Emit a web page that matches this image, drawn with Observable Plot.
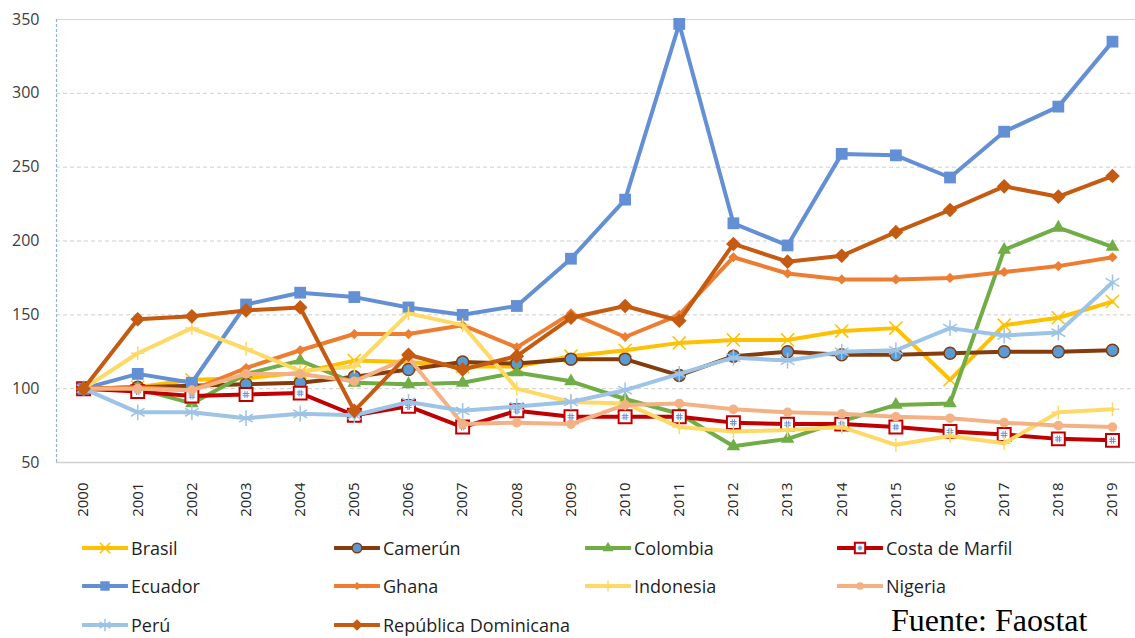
<!DOCTYPE html>
<html><head><meta charset="utf-8">
<script src="https://cdn.jsdelivr.net/npm/d3@7"></script>
<script src="https://cdn.jsdelivr.net/npm/@observablehq/plot@0.6"></script>
<style>
body{margin:0;background:#fff;font-family:"Open Sans",sans-serif;}
#wrap{position:relative;width:1135px;height:638px;overflow:hidden;}
.leg{position:absolute;display:flex;align-items:center;font-size:18px;color:#1f1f1f;height:30px;}
.leg svg{margin-right:3px;}
#fuente{position:absolute;left:891px;top:602px;font-family:"Liberation Serif","Times New Roman",serif;font-size:32px;color:#000;white-space:nowrap;}
</style></head><body><div id="wrap"><div id="chart"></div><div id="legend"></div><div id="fuente">Fuente: Faostat</div></div>
<script>
const years = [2000,2001,2002,2003,2004,2005,2006,2007,2008,2009,2010,2011,2012,2013,2014,2015,2016,2017,2018,2019];
const yTicks = [50,100,150,200,250,300,350];
const countries = ["Brasil","Camerún","Colombia","Costa de Marfil","Ecuador","Ghana","Indonesia","Nigeria","Perú","República Dominicana"];

const brasil    = [100,101,106,107,111,119,118,115,115,122,126,131,133,133,139,141,106,143,148,159];
const camerun   = [100,101,102,103,104,108,113,118,117,120,120,109,122,125,123,123,124,125,125,126];
const colombia  = [100,100,90,110,119,104,103,104,111,105,93,83,61,66,78,89,90,194,209,196];
const costa     = [100,98,95,96,97,82,88,74,85,81,81,81,77,76,76,74,71,69,66,65];
const ecuador   = [100,110,104,157,165,162,155,150,156,188,228,347,212,197,259,258,243,274,291,335];
const ghana     = [100,101,99,114,126,137,137,143,128,151,135,150,189,178,174,174,175,179,183,189];
const indonesia = [100,124,141,127,112,115,151,143,100,91,90,74,71,72,74,62,68,63,84,86];
const nigeria   = [100,100,99,110,110,105,121,76,77,76,89,90,86,84,83,81,80,77,75,74];
const peru      = [100,84,84,80,83,82,91,85,88,91,99,110,121,119,125,126,141,136,138,172];
const repdom    = [100,147,149,153,155,85,123,113,122,148,156,146,198,186,190,206,221,237,230,244];

const valuesByCountry = [brasil,camerun,colombia,costa,ecuador,ghana,indonesia,nigeria,peru,repdom];

// grid-square custom symbol (for Costa de Marfil marker interior)
const gridSymbol = {
  draw(ctx, size) {
    const h = Math.sqrt(size) / 2;
    const a = h / 3;
    ctx.moveTo(-a, -h); ctx.lineTo(-a, h);
    ctx.moveTo(a, -h); ctx.lineTo(a, h);
    ctx.moveTo(-h, -a); ctx.lineTo(h, -a);
    ctx.moveTo(-h, a); ctx.lineTo(h, a);
  }
};

const styles = [
  {color:"#FFC000", symbol:"times",    r:6,   fill:"none",   stroke:"#FFC000", sw:1.5},
  {color:"#843C0C", symbol:"circle",   r:6,   fill:"#5B9BD5", stroke:"#843C0C", sw:1.5},
  {color:"#70AD47", symbol:"triangle2",r:6.5, fill:"#70AD47", stroke:"none", sw:0},
  {color:"#C00000", symbol:"square",   r:7.3, fill:"#ffffff", stroke:"#C00000", sw:2, grid:true},
  {color:"#638FD4", symbol:"square2",  r:7.5, fill:"#638FD4", stroke:"none", sw:0},
  {color:"#ED7D31", symbol:"diamond2", r:4.6, fill:"#ED7D31", stroke:"none", sw:0},
  {color:"#FFD966", symbol:"plus",     r:4.5, fill:"none",   stroke:"#FFD966", sw:1.5},
  {color:"#F4B183", symbol:"circle",   r:4.8, fill:"#F4B183", stroke:"none", sw:0},
  {color:"#9DC3E6", symbol:"asterisk", r:7.5, fill:"none",   stroke:"#9DC3E6", sw:1.5},
  {color:"#C55A11", symbol:"diamond2", r:6.6, fill:"#C55A11", stroke:"none", sw:0}
];

const marks = [
  Plot.ruleY([100,150,200,250,300], {stroke:"#cfcfcf", strokeDasharray:"4,3", strokeWidth:1}),
  Plot.ruleY([350], {stroke:"#d4d4d4", strokeWidth:1.2}),
  Plot.ruleY([50], {stroke:"#d0d0d0", strokeWidth:1.5}),
  Plot.ruleX([1999.5], {stroke:"#8FB0E3", strokeDasharray:"3,2", strokeWidth:1.2}),
  Plot.axisY({ticks:yTicks, tickSize:0, tickPadding:17, fontSize:16, fill:"#404040", label:null}),
  Plot.axisX({ticks:years, tickFormat:d=>String(d), tickSize:0, tickRotate:-90, tickPadding:20, fontSize:15, fill:"#262626", label:null})
];

countries.forEach((c, i) => {
  const rows = years.map((yr, j) => ({country:c, year:yr, value:valuesByCountry[i][j]}));
  const s = styles[i];
  marks.push(Plot.line(rows, {x:"year", y:"value", stroke:s.color, strokeWidth:4, strokeLinejoin:"round", strokeLinecap:"round"}));
  marks.push(Plot.dot(rows, {x:"year", y:"value", symbol:s.symbol, r:s.r, fill:s.fill, stroke:s.stroke, strokeWidth:s.sw}));
  if (s.grid) {
    marks.push(Plot.dot(rows, {x:"year", y:"value", symbol:gridSymbol, r:3.8, fill:"none", stroke:"#6A93D4", strokeWidth:1}));
  }
});

const chart = Plot.plot({
  width:1135, height:520,
  marginLeft:56, marginRight:0, marginTop:19, marginBottom:58,
  style:{fontFamily:"'Open Sans', sans-serif", background:"#fff", overflow:"visible"},
  x:{type:"linear", domain:[1999.5, 2019.425], axis:null},
  y:{type:"linear", domain:[50,350], axis:null},
  marks
});
document.getElementById("chart").appendChild(chart);

// legend
const legend = document.getElementById("legend");
const colX = [82, 334, 585, 837];
const rowY = [548, 586, 625];
const symMap = {times:d3.symbolTimes, circle:d3.symbolCircle, triangle2:d3.symbolTriangle2, square:d3.symbolSquare, square2:d3.symbolSquare2, diamond2:d3.symbolDiamond2, plus:d3.symbolPlus, asterisk:d3.symbolAsterisk};
countries.forEach((c, i) => {
  const s = styles[i];
  const col = i % 4, row = Math.floor(i / 4);
  const div = document.createElement("div");
  div.className = "leg";
  div.style.left = colX[col] + "px";
  div.style.top = (rowY[row] - 15) + "px";
  const svg = d3.create("svg").attr("width", 46).attr("height", 24);
  svg.append("line").attr("x1", 1).attr("x2", 45).attr("y1", 12).attr("y2", 12)
    .attr("stroke", s.color).attr("stroke-width", 4).attr("stroke-linecap", "round");
  const rr = s.r * 0.8;
  svg.append("path").attr("transform", "translate(23,12)")
    .attr("d", d3.symbol(symMap[s.symbol], Math.PI * rr * rr)())
    .attr("fill", s.fill).attr("stroke", s.stroke === "none" ? "none" : s.stroke).attr("stroke-width", s.sw);
  if (s.grid) {
    svg.append("path").attr("transform", "translate(23,12)")
      .attr("d", d3.symbol(gridSymbol, Math.PI * 2.6 * 2.6)())
      .attr("fill", "none").attr("stroke", "#6A93D4").attr("stroke-width", 1);
  }
  div.appendChild(svg.node());
  const span = document.createElement("span");
  span.textContent = c;
  div.appendChild(span);
  legend.appendChild(div);
});
</script></body></html>
